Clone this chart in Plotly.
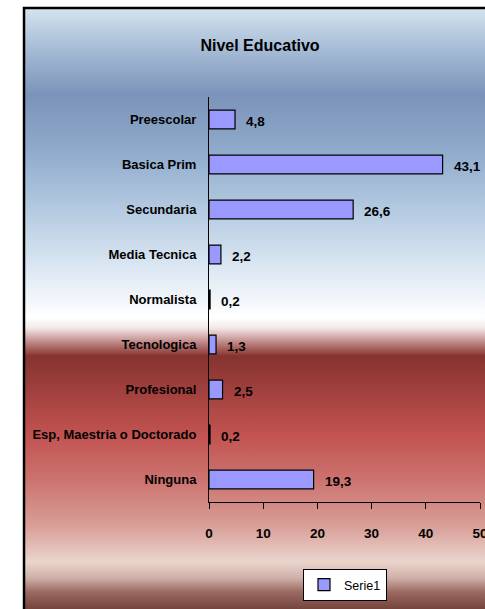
import base64
import plotly.graph_objects as go

# ---- data ----
categories = ["Preescolar", "Basica Prim", "Secundaria", "Media Tecnica", "Normalista",
              "Tecnologica", "Profesional", "Esp, Maestria o Doctorado", "Ninguna"]
values = [4.8, 43.1, 26.6, 2.2, 0.2, 1.3, 2.5, 0.2, 19.3]
value_labels = ["4,8", "43,1", "26,6", "2,2", "0,2", "1,3", "2,5", "0,2", "19,3"]
x_ticks = [0, 10, 20, 30, 40, 50]
series_name = "Serie1"
title_text = "Nivel Educativo"

# ---- layout geometry (pixels) ----
W, H = 485, 609
ML, MR, MT, MB = 209, 5, 97, 107
PW, PH = W - ML - MR, H - MT - MB

def px_x(p):
    return (p - ML) / PW

def px_y(p):
    return (H - MB - p) / PH

FONT = "Liberation Sans, Arial, sans-serif"

# ---- background gradient (Excel-like) ----
frame_top, frame_bot = 8, 614
stops = [
    (8, "#d4e3ef"), (50, "#a5bbd5"), (95, "#7b93b9"), (150, "#8faacb"),
    (210, "#b4cae1"), (270, "#dde8f3"), (318, "#ffffff"), (328, "#f2e8e8"),
    (342, "#c08a88"), (356, "#86332f"), (395, "#a44240"), (435, "#c25351"),
    (480, "#cc736f"), (525, "#d89d97"), (562, "#ead5cd"), (578, "#cfb0a8"),
    (592, "#9a6a62"), (614, "#6a3a32"),
]
stop_xml = "".join(
    f'<stop offset="{(y - frame_top) / (frame_bot - frame_top):.4f}" stop-color="{c}"/>'
    for y, c in stops
)
svg = (
    '<svg xmlns="http://www.w3.org/2000/svg" width="100" height="100" '
    'viewBox="0 0 100 100" preserveAspectRatio="none">'
    f'<defs><linearGradient id="g" x1="0" y1="0" x2="0" y2="1">{stop_xml}</linearGradient></defs>'
    '<rect x="0" y="0" width="100" height="100" fill="url(#g)"/></svg>'
)
src = "data:image/svg+xml;base64," + base64.b64encode(svg.encode()).decode()

fig = go.Figure()
fig.add_trace(go.Bar(
    y=categories, x=values, orientation="h", name=series_name,
    width=0.42,
    marker=dict(color="#9999ff", line=dict(color="#000000", width=1.2)),
    showlegend=True, hoverinfo="skip",
))

for cat, v, lab in zip(categories, values, value_labels):
    fig.add_annotation(
        x=v, y=cat, text=f"<b>{lab}</b>", showarrow=False,
        xanchor="left", yanchor="middle", xshift=9, yshift=-2,
        font=dict(family=FONT, size=13.5, color="#000000"),
    )

left_f, right_f = 24, 492
fig.add_layout_image(
    source=src, xref="paper", yref="paper",
    x=px_x(left_f), y=px_y(frame_top),
    sizex=px_x(right_f) - px_x(left_f), sizey=px_y(frame_top) - px_y(frame_bot),
    xanchor="left", yanchor="top", sizing="stretch", layer="below",
)
fig.add_shape(
    type="rect", xref="paper", yref="paper",
    x0=px_x(left_f), x1=px_x(right_f), y0=px_y(frame_bot), y1=px_y(frame_top),
    line=dict(color="#000000", width=2.5), fillcolor="rgba(0,0,0,0)", layer="below",
)

fig.update_layout(
    width=W, height=H,
    margin=dict(l=ML, r=MR, t=MT, b=MB, pad=0, autoexpand=False),
    paper_bgcolor="#ffffff", plot_bgcolor="rgba(0,0,0,0)",
    title=dict(text=f"<b>{title_text}</b>", x=(260 - ML) / PW, xref="paper", xanchor="center",
               y=1 - 45 / H, yref="container", yanchor="middle",
               font=dict(family=FONT, size=16, color="#000000")),
    xaxis=dict(range=[0, 50], tickvals=x_ticks, ticktext=[f"<b>{t}</b>" for t in x_ticks],
               showgrid=False, zeroline=False, showline=True, linecolor="#000000", linewidth=1,
               ticks="outside", ticklen=6, tickcolor="#000000", tickwidth=1,
               ticklabelstandoff=13, tickangle=0, automargin=False,
               ticklabeloverflow="allow",
               tickfont=dict(family=FONT, size=13.5, color="#000000"), fixedrange=True),
    yaxis=dict(categoryorder="array", categoryarray=categories, autorange="reversed",
               ticktext=[f"<b>{c}</b>" for c in categories], tickvals=categories,
               showgrid=False, zeroline=False, showline=True, linecolor="#000000", linewidth=1,
               ticks="", ticklabelstandoff=9, automargin=False,
               tickfont=dict(family=FONT, size=13, color="#000000"), fixedrange=True),
    legend=dict(x=px_x(345), xref="paper", xanchor="center",
                y=px_y(569), yref="paper", yanchor="top",
                bgcolor="#ffffff", bordercolor="#000000", borderwidth=1,
                font=dict(family=FONT, size=12.5, color="#000000"),
                itemwidth=30, tracegroupgap=0),
)

fig.write_html("out.html", config={"displayModeBar": False},
               post_script="document.body.style.margin='0';")
